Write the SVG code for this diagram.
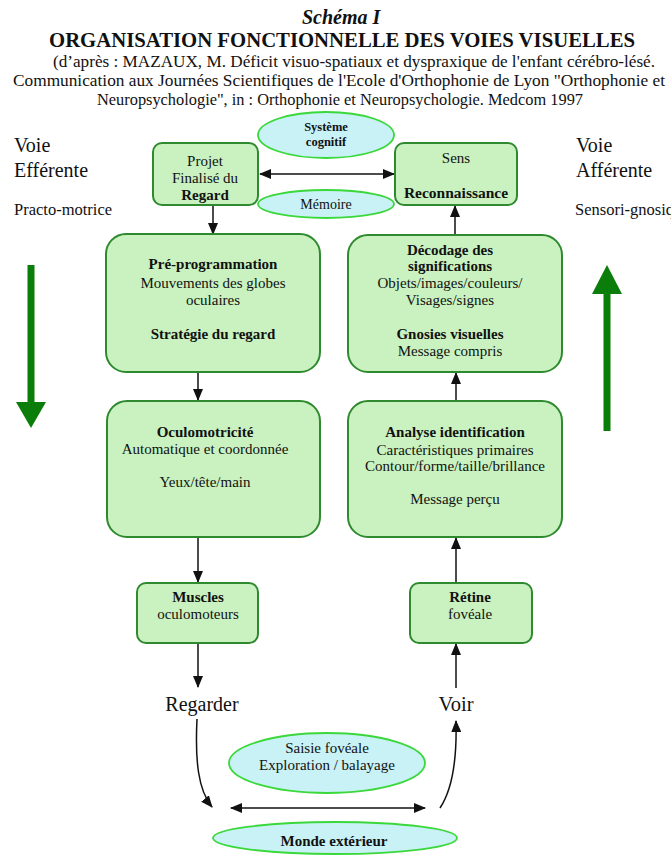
<svg xmlns="http://www.w3.org/2000/svg" width="671" height="861" viewBox="0 0 671 861" font-family="'Liberation Serif', 'Times New Roman', Times, serif">
<style>
text{font-family:'Liberation Serif','Times New Roman',Times,serif;fill:#111}
.c{text-anchor:middle}
.b{font-weight:bold}
.box{fill:#c9f2c0;stroke:#2f8a2f;stroke-width:2}
.ell{fill:#c8f2f6;stroke:#3ad83a;stroke-width:1.8}
.ln{stroke:#111;stroke-width:1.5;fill:none}
.t15{font-size:15px}
.t14{font-size:14px}
.t12{font-size:12.5px}
.sub{font-size:17px}
</style>
<defs>
<marker id="ah" viewBox="0 0 12 10" refX="11" refY="5" markerWidth="12" markerHeight="10" markerUnits="userSpaceOnUse" orient="auto-start-reverse">
<path d="M0,0 L12,5 L0,10 z" fill="#111"/>
</marker>
</defs>
<rect width="671" height="861" fill="#fff"/>
<g id="header">
<text x="302" y="24" class="b" font-style="italic" font-size="20">Schéma  I</text>
<text x="49" y="47" class="b" font-size="20.7" textLength="586" lengthAdjust="spacingAndGlyphs">ORGANISATION FONCTIONNELLE DES VOIES VISUELLES</text>
<text x="53" y="67" class="sub" textLength="602" lengthAdjust="spacingAndGlyphs">(d’après : MAZAUX, M. Déficit visuo-spatiaux et dyspraxique de l'enfant cérébro-lésé.</text>
<text x="13" y="86" class="sub" textLength="652" lengthAdjust="spacingAndGlyphs">Communication aux Journées Scientifiques de l'Ecole d'Orthophonie de Lyon "Orthophonie et</text>
<text x="97" y="105" class="sub" textLength="486" lengthAdjust="spacingAndGlyphs">Neuropsychologie", in : Orthophonie et Neuropsychologie. Medcom 1997</text>
</g>
<g id="side-left">
<text x="14" y="152" font-size="20">Voie</text>
<text x="14" y="177" font-size="20">Efférente</text>
<text x="14" y="215" font-size="16.5">Practo-motrice</text>
<path d="M27.5,265 h7 v137 h11.5 l-15,26 l-15,-26 h11.5 z" fill="#0b7d0b"/>
</g>
<g id="side-right">
<text x="576" y="152" font-size="20">Voie</text>
<text x="576" y="177" font-size="20">Afférente</text>
<text x="575" y="215" font-size="16.5">Sensori-gnosique</text>
<path d="M603.5,431 v-137 h-11.5 l15,-29 l15,29 h-11.5 v137 z" fill="#0b7d0b"/>
</g>
<g id="connectors">
<line class="ln" x1="260" y1="174" x2="394" y2="174" marker-start="url(#ah)" marker-end="url(#ah)"/>
<line class="ln" x1="213" y1="205" x2="213" y2="234" marker-end="url(#ah)"/>
<line class="ln" x1="455" y1="235" x2="455" y2="206" marker-end="url(#ah)"/>
<line class="ln" x1="198" y1="372" x2="198" y2="400" marker-end="url(#ah)"/>
<line class="ln" x1="456" y1="401" x2="456" y2="373" marker-end="url(#ah)"/>
<line class="ln" x1="198" y1="537" x2="198" y2="582" marker-end="url(#ah)"/>
<line class="ln" x1="456" y1="583" x2="456" y2="538" marker-end="url(#ah)"/>
<line class="ln" x1="198" y1="643" x2="198" y2="687" marker-end="url(#ah)"/>
<line class="ln" x1="456" y1="688" x2="456" y2="644" marker-end="url(#ah)"/>
<path class="ln" d="M197,719 C195,760 198,790 212,807" marker-end="url(#ah)"/>
<path class="ln" d="M440,808 C452,790 457,760 456,721" marker-end="url(#ah)"/>
<line class="ln" x1="231" y1="808" x2="425" y2="808" marker-start="url(#ah)" marker-end="url(#ah)"/>
</g>
<g id="systeme-cognitif">
<ellipse class="ell" cx="326" cy="135" rx="68" ry="23"/>
<text x="326" y="131" class="c b t12">Système</text>
<text x="326" y="146" class="c b t12">cognitif</text>
</g>
<g id="memoire">
<ellipse class="ell" cx="326" cy="204" rx="68" ry="14"/>
<text x="326" y="209" class="c t14">Mémoire</text>
</g>
<g id="projet">
<rect class="box" x="153" y="143" width="105" height="62" rx="9"/>
<text x="205" y="166" class="c t15">Projet</text>
<text x="205" y="183" class="c t15">Finalisé du</text>
<text x="205" y="200" class="c b t15">Regard</text>
</g>
<g id="sens">
<rect class="box" x="395" y="143" width="122" height="62" rx="9"/>
<text x="456" y="163" class="c t15">Sens</text>
<text x="456" y="198" class="c b" font-size="15.5">Reconnaissance</text>
</g>
<g id="pre-programmation">
<rect class="box" x="106" y="234" width="214" height="138" rx="20"/>
<text x="213" y="269" class="c b t15">Pré-programmation</text>
<text x="213" y="288" class="c t15">Mouvements des globes</text>
<text x="213" y="305" class="c t15">oculaires</text>
<text x="213" y="339" class="c b t15">Stratégie du regard</text>
</g>
<g id="decodage">
<rect class="box" x="348" y="235" width="214" height="137" rx="20"/>
<text x="450" y="255" class="c b t15">Décodage des</text>
<text x="450" y="271" class="c b t15">significations</text>
<text x="450" y="288" class="c t15">Objets/images/couleurs/</text>
<text x="450" y="305" class="c t15">Visages/signes</text>
<text x="450" y="339" class="c b t15">Gnosies visuelles</text>
<text x="450" y="356" class="c t15">Message compris</text>
</g>
<g id="oculomotricite">
<rect class="box" x="107" y="401" width="213" height="136" rx="20"/>
<text x="205" y="437" class="c b t15">Oculomotricité</text>
<text x="205" y="454" class="c t15">Automatique et coordonnée</text>
<text x="205" y="487" class="c t15">Yeux/tête/main</text>
</g>
<g id="analyse">
<rect class="box" x="348" y="401" width="214" height="136" rx="20"/>
<text x="455" y="437" class="c b t15">Analyse identification</text>
<text x="455" y="455" class="c t15">Caractéristiques primaires</text>
<text x="455" y="471" class="c t15">Contour/forme/taille/brillance</text>
<text x="455" y="504" class="c t15">Message perçu</text>
</g>
<g id="muscles">
<rect class="box" x="137" y="583" width="121" height="60" rx="9"/>
<text x="198" y="602" class="c b t15">Muscles</text>
<text x="198" y="619" class="c t15">oculomoteurs</text>
</g>
<g id="retine">
<rect class="box" x="410" y="583" width="122" height="60" rx="9"/>
<text x="470" y="602" class="c b t15">Rétine</text>
<text x="470" y="619" class="c t15">fovéale</text>
</g>
<g id="regarder">
<text x="202" y="711" class="c" font-size="20">Regarder</text>
</g>
<g id="voir">
<text x="456" y="711" class="c" font-size="20.5">Voir</text>
</g>
<g id="saisie">
<ellipse class="ell" cx="327" cy="763" rx="98" ry="30"/>
<text x="327" y="753" class="c t15">Saisie fovéale</text>
<text x="327" y="770" class="c t15">Exploration / balayage</text>
</g>
<g id="monde">
<ellipse class="ell" cx="335" cy="838" rx="122" ry="16"/>
<text x="334" y="846" class="c b t15">Monde extérieur</text>
</g>
</svg>
